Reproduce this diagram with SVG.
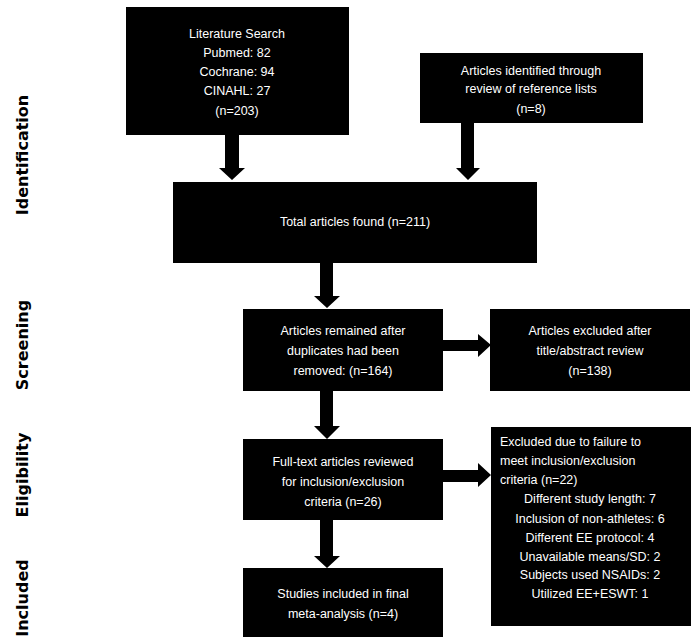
<svg xmlns="http://www.w3.org/2000/svg" width="698" height="644" viewBox="0 0 698 644">
<style>
.box{fill:#000}
.t{fill:#fff;font-family:"Liberation Sans",Arial,sans-serif;font-size:12.5px;text-anchor:middle}
.l{text-anchor:start}
.s{fill:#000;font-family:"DejaVu Sans",sans-serif;font-weight:bold;font-size:16px;text-anchor:middle}
.a{fill:#000}
</style>
<rect width="698" height="644" fill="#fff"/>
<g id="labels">
<text class="s" transform="translate(28,155) rotate(-90)">Identification</text>
<text class="s" transform="translate(28,345) rotate(-90)">Screening</text>
<text class="s" transform="translate(28,475) rotate(-90)">Eligibility</text>
<text class="s" transform="translate(28,598) rotate(-90)">Included</text>
</g>
<g id="connectors">
<polygon class="a" points="225,135 239,135 239,168 245,168 232,180 219,168 225,168"/>
<polygon class="a" points="461,123 474,123 474,168 480,168 468,180 456,168 461,168"/>
<polygon class="a" points="320,263 333,263 333,296 340,296 327,308 314,296 320,296"/>
<polygon class="a" points="320,391 333,391 333,426 340,426 327,439 314,426 320,426"/>
<polygon class="a" points="320,520 333,520 333,556 340,556 327,568 314,556 320,556"/>
<polygon class="a" points="443,340 478,340 478,334 491,345 478,357 478,351 443,351"/>
<polygon class="a" points="443,470 478,470 478,463 491,475 478,487 478,482 443,482"/>
</g>
<g id="n1"><rect class="box" x="126" y="7" width="223" height="128"/>
<text class="t" x="237" y="38">Literature Search</text>
<text class="t" x="237" y="57">Pubmed: 82</text>
<text class="t" x="237" y="76">Cochrane: 94</text>
<text class="t" x="237" y="95">CINAHL: 27</text>
<text class="t" x="237" y="115">(n=203)</text></g>
<g id="n2"><rect class="box" x="420" y="53" width="223" height="70"/>
<text class="t" x="531" y="75">Articles identified through</text>
<text class="t" x="531" y="93">review of reference lists</text>
<text class="t" x="531" y="113">(n=8)</text></g>
<g id="n3"><rect class="box" x="173" y="182" width="364" height="81"/>
<text class="t" x="355" y="226">Total articles found (n=211)</text></g>
<g id="n4"><rect class="box" x="243" y="309" width="200" height="82"/>
<text class="t" x="343" y="335">Articles remained after</text>
<text class="t" x="343" y="355">duplicates had been</text>
<text class="t" x="343" y="375">removed: (n=164)</text></g>
<g id="n5"><rect class="box" x="490" y="309" width="200" height="82"/>
<text class="t" x="590" y="335">Articles excluded after</text>
<text class="t" x="590" y="355">title/abstract review</text>
<text class="t" x="590" y="375">(n=138)</text></g>
<g id="n6"><rect class="box" x="243" y="439" width="200" height="81"/>
<text class="t" x="343" y="466">Full-text articles reviewed</text>
<text class="t" x="343" y="486">for inclusion/exclusion</text>
<text class="t" x="343" y="506">criteria (n=26)</text></g>
<g id="n7"><rect class="box" x="491" y="427" width="200" height="199"/>
<text class="t l" x="500" y="446">Excluded due to failure to</text>
<text class="t l" x="500" y="465">meet inclusion/exclusion</text>
<text class="t l" x="500" y="484">criteria (n=22)</text>
<text class="t" x="590" y="503">Different study length: 7</text>
<text class="t" x="590" y="523">Inclusion of non-athletes: 6</text>
<text class="t" x="590" y="542">Different EE protocol: 4</text>
<text class="t" x="590" y="561">Unavailable means/SD: 2</text>
<text class="t" x="590" y="579">Subjects used NSAIDs: 2</text>
<text class="t" x="590" y="598">Utilized EE+ESWT: 1</text></g>
<g id="n8"><rect class="box" x="243" y="568" width="200" height="69"/>
<text class="t" x="343" y="598">Studies included in final</text>
<text class="t" x="343" y="618">meta-analysis (n=4)</text></g>
</svg>
